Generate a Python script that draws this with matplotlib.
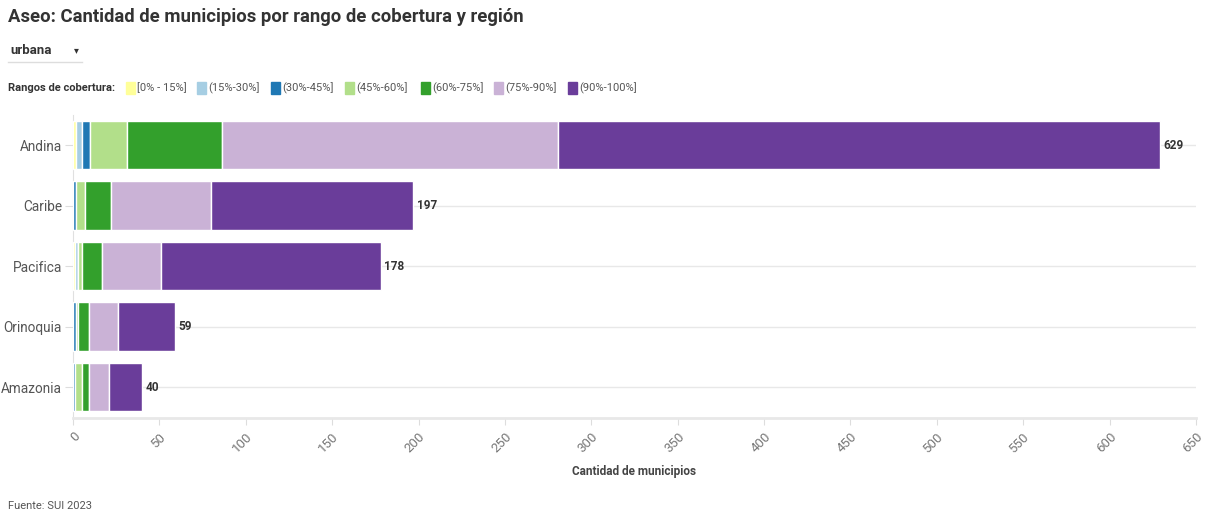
import matplotlib.pyplot as plt
import numpy as np

# ====== DATOS ======
regiones = ["Andina", "Caribe", "Pacifica", "Orinoquia", "Amazonia"]
rangos = ["[0% - 15%]", "(15%-30%]", "(30%-45%]", "(45%-60%]", "(60%-75%]", "(75%-90%]", "(90%-100%]"]
colores = ["#ffff99", "#a6cee3", "#1f78b4", "#b2df8a", "#33a02c", "#cab2d6", "#6a3d9a"]

# municipios por rango (una lista por rango, en el orden de regiones)
r_0_15 = [2, 0, 1, 0, 0]
r_15_30 = [3, 0, 2, 0, 0]
r_30_45 = [5, 2, 0, 2, 1]
r_45_60 = [21, 5, 2, 1, 4]
r_60_75 = [55, 15, 12, 6, 4]
r_75_90 = [195, 58, 34, 17, 12]
r_90_100 = [348, 117, 127, 33, 19]
series = [r_0_15, r_15_30, r_30_45, r_45_60, r_60_75, r_75_90, r_90_100]

x_ticks = list(range(0, 651, 50))

plt.rcParams["font.family"] = ["Roboto", "DejaVu Sans"]

W, H = 1206, 513
fig = plt.figure(figsize=(W / 100, H / 100), dpi=100)
ax = fig.add_axes([73 / W, 1 - 417.5 / H, (1196 - 73) / W, (417.5 - 114.75) / H])

y = np.arange(len(regiones))
left = np.zeros(len(regiones))
for vals, col in zip(series, colores):
    vals = np.array(vals)
    ax.barh(y, vals, left=left, height=0.8, color=col, edgecolor="white", linewidth=1, zorder=3)
    left += vals

for yi, tot in zip(y, left):
    ax.text(tot + 2, yi, f"{int(tot)}", va="center", ha="left", fontsize=8.5, fontweight="bold", color="#333333")

ax.set_ylim(len(regiones) - 0.5, -0.5)
ax.set_xlim(0, 650)
ax.set_yticks(y)
ax.set_yticklabels(regiones, fontsize=9.8, color="#555555")
ax.set_xticks(x_ticks)
ax.set_xticklabels([str(t) for t in x_ticks], fontsize=9.5, color="#777777",
                   rotation=45, ha="right", va="top", rotation_mode="anchor")
ax.tick_params(axis="y", length=6, color="#dddddd", pad=2)
ax.tick_params(axis="x", length=5, color="#dddddd", pad=4)
for yi in y:
    ax.axhline(yi, color="#e8e8e8", lw=1, zorder=1)
for s in ["top", "right"]:
    ax.spines[s].set_visible(False)
ax.spines["left"].set_color("#e0e0e0")
ax.spines["bottom"].set_color("#e8e8e8")
ax.spines["bottom"].set_linewidth(2)
ax.set_xlabel("Cantidad de municipios", fontsize=8.5, fontweight="bold", color="#444444", labelpad=7)

# ====== TEXTOS ======
fig.text(8 / W, 1 - 17 / H, "Aseo: Cantidad de municipios por rango de cobertura y región",
         fontsize=13.3, fontweight="bold", color="#333333", va="center", ha="left")
fig.text(10 / W, 1 - 51 / H, "urbana", fontsize=9.5, fontweight="bold", color="#333333", va="center")
fig.text(76 / W, 1 - 50 / H, "▾", fontsize=7, color="#333333", va="center", ha="center",
         family="DejaVu Sans")
fig.add_artist(plt.Line2D([8 / W, 82 / W], [1 - 62 / H, 1 - 62 / H], color="#dddddd", lw=1))

fig.text(8 / W, 1 - 88 / H, "Rangos de cobertura:", fontsize=8, fontweight="bold", color="#333333", va="center")
sw_x = [126, 197, 271, 345, 421, 494, 568]
for xs, col, lab in zip(sw_x, colores, rangos):
    fig.patches.append(plt.Rectangle((xs / W, 1 - 94 / H), 9 / W, 12 / H, color=col,
                                     transform=fig.transFigure, figure=fig))
    fig.text((xs + 11) / W, 1 - 88 / H, lab, fontsize=8, color="#555555", va="center")

fig.text(8 / W, 1 - 506 / H, "Fuente: SUI 2023", fontsize=8, color="#555555", va="center")

fig.savefig("out.png", dpi=100, facecolor="white")
